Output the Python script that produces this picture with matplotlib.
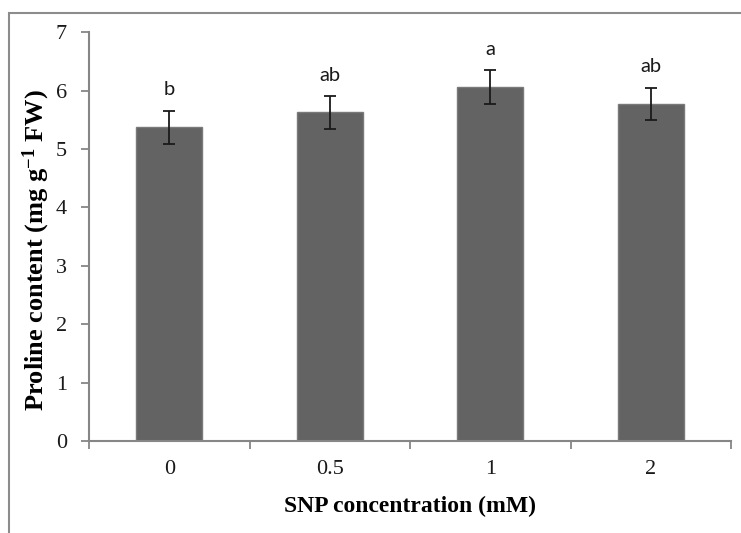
import numpy as np
import matplotlib.pyplot as plt
from matplotlib.patches import Rectangle

plt.rcParams['mathtext.fontset'] = 'custom'
plt.rcParams['mathtext.rm'] = 'Liberation Serif'
plt.rcParams['mathtext.bf'] = 'Liberation Serif:bold'
plt.rcParams['mathtext.default'] = 'bf'

# Data
concentrations = ['0', '0.5', '1', '2']
proline = [5.37, 5.63, 6.06, 5.77]
proline_err = [0.29, 0.28, 0.29, 0.28]
letters = ['b', 'ab', 'a', 'ab']

fig = plt.figure(figsize=(7.41, 5.33), dpi=100)
ax = fig.add_axes([89 / 741, 1 - 441 / 533, (731 - 89) / 741, (441 - 32.3) / 533])

# outer chart frame (runs off the right and bottom edge)
fig.patches.append(Rectangle((9 / 741, -0.1), 1.2, 1 - 13 / 533 + 0.1,
                             transform=fig.transFigure, fill=False,
                             edgecolor='#8c8c8c', linewidth=1.5))

x = np.arange(len(concentrations))
ax.bar(x, proline, width=0.41, color='#636363', edgecolor='#7a7a7a', linewidth=1.0, zorder=2)
ax.errorbar(x, proline, yerr=proline_err, fmt='none', ecolor='#1a1a1a',
            elinewidth=1.3, capsize=4, capthick=1.3, zorder=3)

for xi, m, e, lab in zip(x, proline, proline_err, letters):
    ax.annotate(lab, (xi, m + e), xytext=(0, 11), textcoords='offset points',
                ha='center', va='baseline', fontsize=14.5, family='Lato', color='#1a1a1a')

ax.set_xlim(-0.5, len(concentrations) - 0.5)
ax.set_ylim(0, 7)
ax.set_yticks(range(0, 8))
ax.set_xticks(np.arange(-0.5, len(concentrations), 1.0), minor=False)
ax.set_xticklabels([])
ax.set_xticks(x, minor=True)
ax.set_xticklabels(concentrations, minor=True)
ax.tick_params(axis='x', which='minor', length=0, pad=14)
ax.tick_params(axis='x', which='major', direction='out', length=6, color='#868686', width=1.3)
ax.tick_params(axis='y', direction='out', length=6, color='#868686', width=1.3, pad=10)

for lab in ax.get_yticklabels() + ax.get_xticklabels(minor=True):
    lab.set_family('Liberation Serif')
    lab.set_fontsize(16)
    lab.set_color('#1a1a1a')

for side in ['top', 'right']:
    ax.spines[side].set_visible(False)
for side in ['left', 'bottom']:
    ax.spines[side].set_color('#868686')
    ax.spines[side].set_linewidth(1.5)

ax.set_xlabel('SNP concentration (mM)', family='Liberation Serif', fontsize=17,
              fontweight='bold', labelpad=12)
ax.set_ylabel('Proline content (mg g$^{-1}$ FW)', family='Liberation Serif',
              fontsize=19, fontweight='bold')
ax.yaxis.set_label_coords(-0.058, 0.467)

fig.savefig('out.png', dpi=100)
